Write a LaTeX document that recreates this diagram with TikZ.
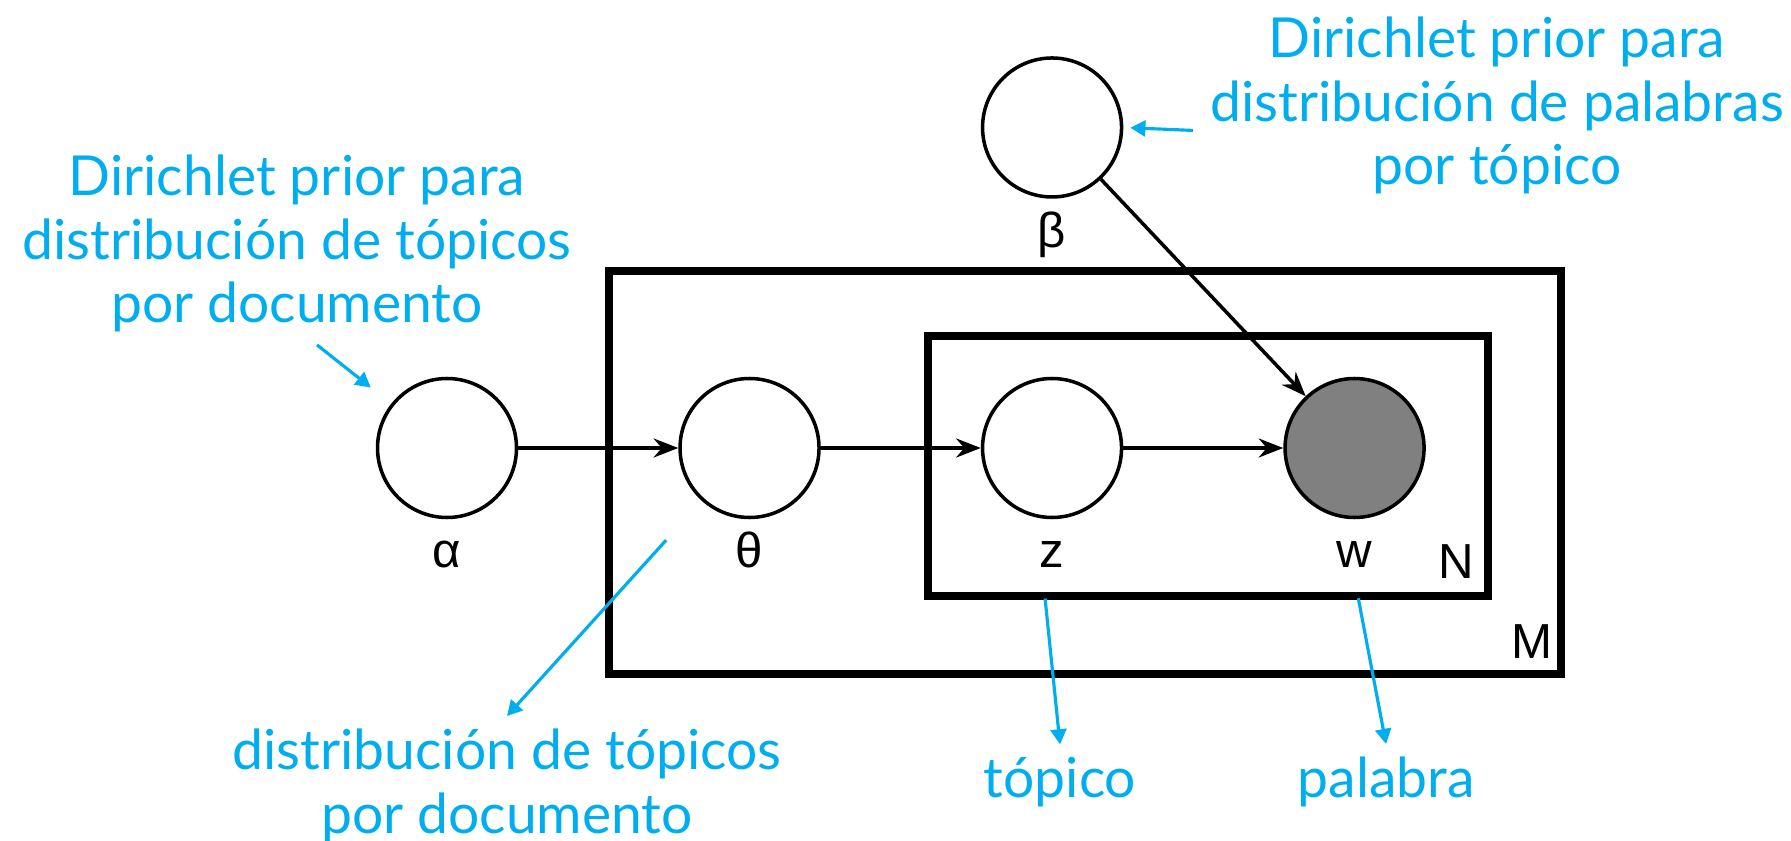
\documentclass[tikz,border=0pt]{standalone}
\usepackage{fontspec}
\setmainfont{Liberation Sans}
\newfontfamily\notefont{Lato}
\usetikzlibrary{positioning,arrows.meta}
\definecolor{colornote}{RGB}{0,174,239}
\definecolor{colorobs}{RGB}{128,128,128}

\begin{document}
\begin{tikzpicture}[
    node distance = 1.6cm,
    font={\fontsize{14}{16}\selectfont},
    var/.style={circle,draw=black,line width=1pt,fill=white,minimum size=1.39cm,inner sep=0pt},
    obs/.style={var,fill=colorobs},
    lbl/.style={inner sep=0pt,text height=0.3cm,text depth=0.1cm},
    plate/.style={rectangle,draw=black,line width=2.2pt,inner sep=0pt,outer sep=0pt},
    edge/.style={-{Stealth[length=7pt,width=5.4pt,inset=2.3pt]},line width=1pt},
    note/.style={text=colornote,font={\notefont\fontsize{15.7}{18.2}\selectfont},align=center},
    pointer/.style={-{Triangle[length=4.3pt,width=4.5pt]},draw=colornote,line width=0.9pt},
]

    \useasboundingbox (0,0) rectangle (17.91,8.40);

    % Plates
    \node[plate,minimum width=9.52cm,minimum height=4.03cm] (Mplate) at (10.85,3.675) {};
    \node[plate,minimum width=5.60cm,minimum height=2.60cm] (Nplate) at (12.08,3.74) {};
    \node[lbl,anchor=base east] (Mlbl) at ([xshift=-0.08cm,yshift=0.16cm]Mplate.south east) {M};
    \node[lbl,anchor=base east] (Nlbl) at ([xshift=-0.13cm,yshift=0.18cm]Nplate.south east) {N};

    % Variables
    \node[var] (alpha) at (4.47,3.92) {};
    \node[var,right=of alpha] (theta) {};
    \node[var,right=of theta] (z) {};
    \node[obs,right=of z] (w) {};
    \node[var,above=1.78cm of z] (beta) {};
    \node[lbl,below=0.18cm of alpha] (alphalbl) {α};
    \node[lbl,below=0.18cm of theta] (thetalbl) {θ};
    \node[lbl,below=0.18cm of z] (zlbl) {z};
    \node[lbl,below=0.18cm of w] (wlbl) {w};
    \node[lbl,below=0.18cm of beta] (betalbl) {β};

    % Arrows
    \draw[edge] (alpha) -- (theta);
    \draw[edge] (theta) -- (z);
    \draw[edge] (z) -- (w);
    \draw[edge] (beta) -- (w);

    % Notes (base = last line)
    \node[note,anchor=base] (alphanote) at (2.97,5.17) {Dirichlet prior para\\distribución de tópicos\\por documento};
    \node[note,anchor=base] (betanote) at (14.97,6.55) {Dirichlet prior para\\distribución de palabras\\por tópico};
    \node[note,anchor=base] (thetanote) at (5.07,0.07) {distribución de tópicos\\por documento};
    \node[note,anchor=base] (topiconote) at (10.60,0.43) {tópico};
    \node[note,anchor=base] (palabranote) at (13.86,0.43) {palabra};

    % Pointers
    \draw[pointer,shorten >=0.26cm] ([xshift=0.2cm]alphanote.south) -- (alpha);
    \draw[pointer,shorten >=0.07cm] ([shift={(-0.05,-0.25)}]betanote.west) -- (beta.east);
    \draw[pointer,shorten <=0.53cm] (theta) -- (thetanote.north);
    \draw[pointer,shorten <=0.2cm] ([xshift=-0.09cm]zlbl.south) -- (topiconote.north);
    \draw[pointer,shorten <=0.2cm] (wlbl.south) -- (palabranote.north);

\end{tikzpicture}
\end{document}
